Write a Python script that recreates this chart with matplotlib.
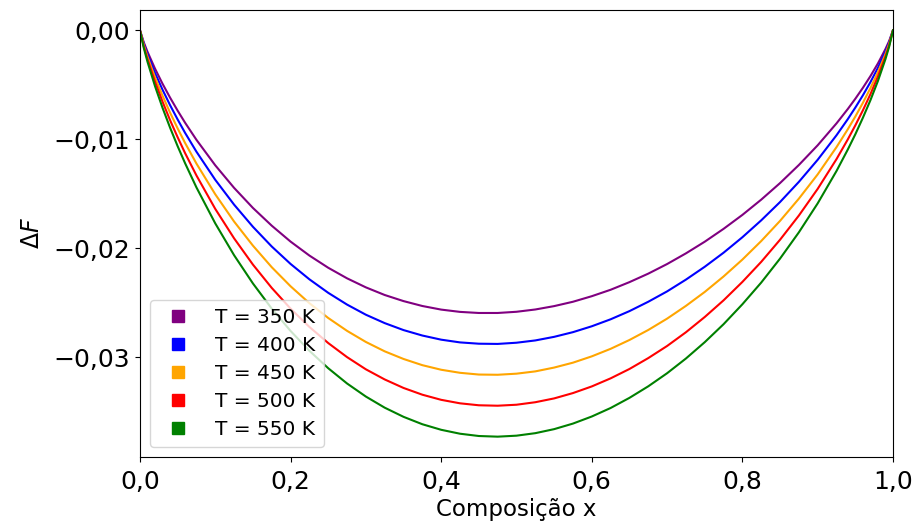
import matplotlib.pyplot as plt
from matplotlib.lines import Line2D
from matplotlib.ticker import FuncFormatter

# composition values where the curves were read
x = [0.0, 0.005, 0.01, 0.02, 0.03, 0.04, 0.05, 0.06, 0.075,
     0.1, 0.125, 0.15, 0.175, 0.2, 0.225, 0.25, 0.275, 0.3, 0.325, 0.35, 0.375,
     0.4, 0.425, 0.45, 0.475, 0.5, 0.525, 0.55, 0.575, 0.6, 0.625, 0.65, 0.675,
     0.7, 0.725, 0.75, 0.775, 0.8, 0.825, 0.85, 0.875, 0.9,
     0.925, 0.94, 0.95, 0.96, 0.97, 0.98, 0.99, 0.995, 1.0]

# Delta F, one list per temperature
dF_350 = [0, -0.00109, -0.00197, -0.00352, -0.00491, -0.00618, -0.00737, -0.00849, -0.01005,
          -0.01239, -0.01446, -0.01630, -0.01793, -0.01939, -0.02067, -0.02179, -0.02276,
          -0.02359, -0.02429, -0.02485, -0.02530, -0.02563, -0.02584, -0.02594, -0.02594,
          -0.02583, -0.02562, -0.02531, -0.02491, -0.02440, -0.02381, -0.02311, -0.02233,
          -0.02145, -0.02047, -0.01940, -0.01822, -0.01694, -0.01554, -0.01402, -0.01236,
          -0.01055, -0.00854, -0.00722, -0.00628, -0.00528, -0.00421, -0.00304, -0.00172,
          -0.00096, 0]
dF_400 = [0, -0.00121, -0.00220, -0.00392, -0.00546, -0.00687, -0.00818, -0.00942, -0.01114,
          -0.01372, -0.01600, -0.01803, -0.01984, -0.02144, -0.02285, -0.02409, -0.02517,
          -0.02610, -0.02687, -0.02751, -0.02801, -0.02839, -0.02864, -0.02876, -0.02878,
          -0.02867, -0.02846, -0.02813, -0.02770, -0.02716, -0.02652, -0.02577, -0.02491,
          -0.02396, -0.02288, -0.02170, -0.02041, -0.01899, -0.01744, -0.01576, -0.01391,
          -0.01188, -0.00963, -0.00815, -0.00709, -0.00597, -0.00476, -0.00344, -0.00195,
          -0.00109, 0]
dF_450 = [0, -0.00134, -0.00243, -0.00432, -0.00601, -0.00756, -0.00900, -0.01035, -0.01223,
          -0.01505, -0.01755, -0.01976, -0.02174, -0.02349, -0.02504, -0.02640, -0.02758,
          -0.02860, -0.02946, -0.03016, -0.03073, -0.03115, -0.03143, -0.03159, -0.03161,
          -0.03151, -0.03130, -0.03095, -0.03050, -0.02992, -0.02923, -0.02842, -0.02750,
          -0.02646, -0.02529, -0.02401, -0.02259, -0.02104, -0.01934, -0.01749, -0.01545,
          -0.01322, -0.01072, -0.00908, -0.00791, -0.00666, -0.00531, -0.00384, -0.00218,
          -0.00122, 0]
dF_500 = [0, -0.00147, -0.00266, -0.00472, -0.00656, -0.00825, -0.00981, -0.01128, -0.01332,
          -0.01639, -0.01909, -0.02150, -0.02364, -0.02554, -0.02722, -0.02870, -0.02999,
          -0.03111, -0.03204, -0.03282, -0.03344, -0.03391, -0.03423, -0.03441, -0.03445,
          -0.03436, -0.03413, -0.03378, -0.03329, -0.03268, -0.03194, -0.03108, -0.03008,
          -0.02897, -0.02771, -0.02631, -0.02478, -0.02309, -0.02125, -0.01922, -0.01700,
          -0.01455, -0.01182, -0.01001, -0.00872, -0.00735, -0.00587, -0.00424, -0.00241,
          -0.00135, 0]
dF_550 = [0, -0.00160, -0.00289, -0.00513, -0.00712, -0.00894, -0.01063, -0.01221, -0.01442,
          -0.01772, -0.02064, -0.02323, -0.02554, -0.02759, -0.02941, -0.03101, -0.03241,
          -0.03361, -0.03463, -0.03547, -0.03615, -0.03666, -0.03702, -0.03723, -0.03729,
          -0.03720, -0.03697, -0.03660, -0.03609, -0.03544, -0.03466, -0.03373, -0.03267,
          -0.03147, -0.03012, -0.02862, -0.02697, -0.02514, -0.02315, -0.02095, -0.01854,
          -0.01588, -0.01291, -0.01094, -0.00954, -0.00803, -0.00642, -0.00465, -0.00264,
          -0.00148, 0]

temps = [350, 400, 450, 500, 550]
series = [dF_350, dF_400, dF_450, dF_500, dF_550]
colors = ["purple", "blue", "orange", "red", "green"]


def comma(fmt):
    # decimal comma and a proper minus sign, no "-0,00"
    def f(v, pos):
        if abs(v) < 1e-12:
            v = 0.0
        s = fmt.format(v).replace(".", ",")
        return s.replace("-", "\u2212")
    return FuncFormatter(f)


fig = plt.figure(figsize=(9.19, 5.31), dpi=100)
ax = fig.add_axes([0.1523, 0.1394, 0.8194, 0.8418])

for T, y, c in zip(temps, series, colors):
    ax.plot(x, y, color=c, lw=1.5)

ax.set_xlim(0, 1)
ax.set_yticks([0.0, -0.01, -0.02, -0.03])
ax.xaxis.set_major_formatter(comma("{:.1f}"))
ax.yaxis.set_major_formatter(comma("{:.2f}"))
ax.tick_params(labelsize=18)
ax.tick_params(axis="x", pad=6)
ax.set_xlabel("Composição x", fontsize=16.5, labelpad=3)
ax.set_ylabel(r"$\Delta F$", fontsize=17, labelpad=7)

handles = [Line2D([], [], color=c, marker="s", linestyle="", markersize=8)
           for c in colors]
labels = [f"T = {T} K" for T in temps]
ax.legend(handles, labels, loc="lower left", fontsize=14.5, handletextpad=0.85,
          labelspacing=0.45)

fig.savefig("out.png", dpi=100)
